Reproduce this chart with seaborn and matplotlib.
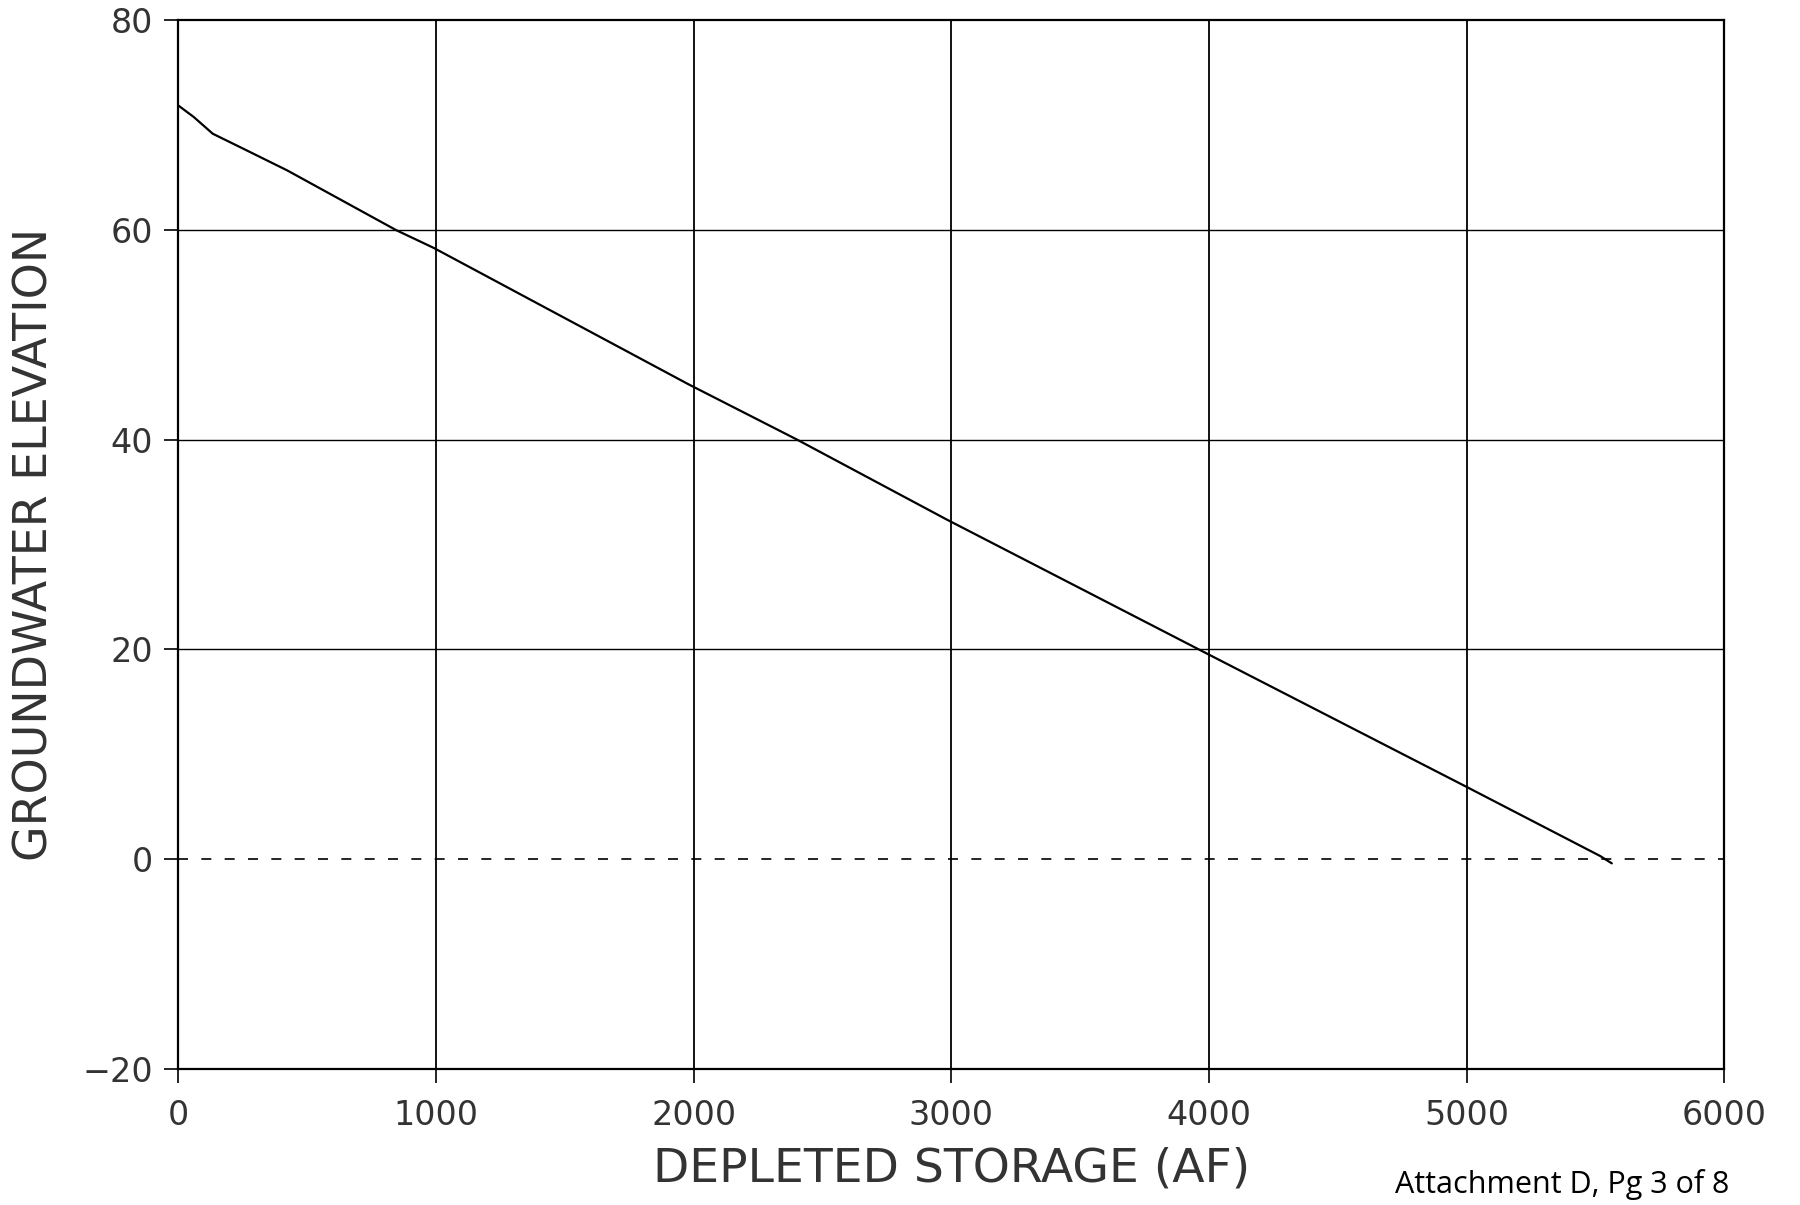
import numpy as np
import pandas as pd
import seaborn as sns
import matplotlib.pyplot as plt

# values
storage = [0, 60, 134, 250, 423, 846, 992, 1980, 2403, 2982, 3961, 5007, 5518, 5563]
elevation = [71.9, 70.8, 69.2, 67.8, 65.7, 60.0, 58.3, 45.3, 40.0, 32.4, 20.0, 6.8, 0.3, -0.4]
x_ticks = [0, 1000, 2000, 3000, 4000, 5000, 6000]
y_ticks = [-20, 0, 20, 40, 60, 80]

df = pd.DataFrame({'Storage': storage, 'Elevation': elevation})

sns.set_theme(style='ticks')
plt.rcParams['font.family'] = ['DejaVu Sans']

fig = plt.figure(figsize=(18, 12.05), dpi=100)
ax = fig.add_axes([0.099, 0.113, 0.859, 0.870])

# grid: solid except the zero line which is dashed
for x in x_ticks[1:-1]:
    ax.axvline(x, color='black', lw=1.3, zorder=1)
for y in y_ticks[2:-1]:
    ax.axhline(y, color='black', lw=1.0, zorder=1)
ax.axhline(0, color='black', lw=1.2, ls=(0, (6, 8)), zorder=1)

sns.lineplot(data=df, x='Storage', y='Elevation', color='black', lw=1.6,
             ax=ax, zorder=3)

ax.set_xlim(0, 6000)
ax.set_ylim(-20, 80)
ax.set_xticks(x_ticks)
ax.set_yticks(y_ticks)
ax.set_yticklabels(['\u221220', '0', '20', '40', '60', '80'])
ax.tick_params(axis='both', direction='out', length=10, width=1.2,
               color='black', labelsize=24, labelcolor='#333333', pad=8)
ax.tick_params(axis='x', pad=12)
for s in ax.spines.values():
    s.set_color('black')
    s.set_linewidth(1.6)

ax.set_xlabel('DEPLETED STORAGE (AF)', fontsize=34, color='#333333',
              labelpad=10)
ax.set_ylabel('GROUNDWATER ELEVATION', fontsize=33, color='#333333',
              labelpad=18)

fig.text(0.775, 0.004, 'Attachment D, Pg 3 of 8', fontsize=22, va='bottom',
         ha='left', color='black', family=['Open Sans', 'DejaVu Sans'])

fig.savefig('out.png', dpi=100, facecolor='white')
